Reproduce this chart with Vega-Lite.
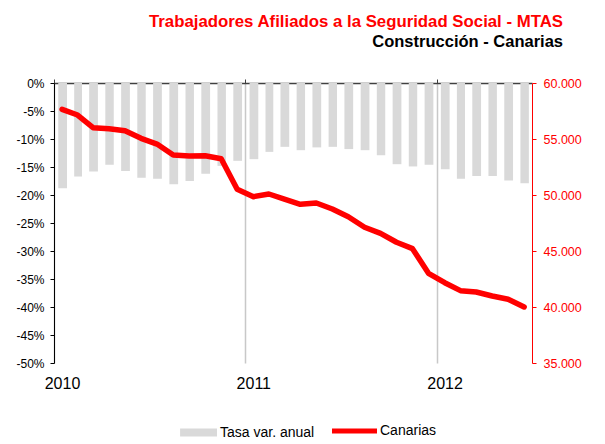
{
  "$schema": "https://vega.github.io/schema/vega-lite/v6.json",
  "width": 478,
  "height": 280,
  "autosize": "none",
  "padding": {"left": 54, "top": 83, "right": 73, "bottom": 81},
  "background": "white",
  "config": {"view": {"stroke": null}},
  "title": {
    "text": "Trabajadores Afiliados a la Seguridad Social - MTAS",
    "subtitle": "Construcción - Canarias",
    "anchor": "end",
    "frame": "group",
    "dx": 31,
    "font": "Liberation Sans",
    "fontSize": 16.8,
    "fontWeight": "bold",
    "color": "#ff0000",
    "subtitleFont": "Liberation Sans",
    "subtitleFontSize": 16.5,
    "subtitleFontWeight": "bold",
    "subtitleColor": "#000000",
    "subtitlePadding": 4,
    "offset": 26
  },
  "data": {
    "values": [
      {"fecha": "2010-01-01", "tasa": -18.8, "afiliados": 57650},
      {"fecha": "2010-02-01", "tasa": -16.7, "afiliados": 57140},
      {"fecha": "2010-03-01", "tasa": -15.8, "afiliados": 56010},
      {"fecha": "2010-04-01", "tasa": -14.6, "afiliados": 55920},
      {"fecha": "2010-05-01", "tasa": -15.7, "afiliados": 55740},
      {"fecha": "2010-06-01", "tasa": -16.9, "afiliados": 55060},
      {"fecha": "2010-07-01", "tasa": -17.1, "afiliados": 54550},
      {"fecha": "2010-08-01", "tasa": -18.1, "afiliados": 53570},
      {"fecha": "2010-09-01", "tasa": -17.5, "afiliados": 53480},
      {"fecha": "2010-10-01", "tasa": -16.2, "afiliados": 53510},
      {"fecha": "2010-11-01", "tasa": -14.8, "afiliados": 53240},
      {"fecha": "2010-12-01", "tasa": -13.9, "afiliados": 50510},
      {"fecha": "2011-01-01", "tasa": -13.6, "afiliados": 49850},
      {"fecha": "2011-02-01", "tasa": -12.3, "afiliados": 50090},
      {"fecha": "2011-03-01", "tasa": -11.4, "afiliados": 49640},
      {"fecha": "2011-04-01", "tasa": -12.0, "afiliados": 49170},
      {"fecha": "2011-05-01", "tasa": -11.5, "afiliados": 49290},
      {"fecha": "2011-06-01", "tasa": -11.4, "afiliados": 48750},
      {"fecha": "2011-07-01", "tasa": -11.8, "afiliados": 48060},
      {"fecha": "2011-08-01", "tasa": -12.0, "afiliados": 47120},
      {"fecha": "2011-09-01", "tasa": -12.9, "afiliados": 46580},
      {"fecha": "2011-10-01", "tasa": -14.5, "afiliados": 45780},
      {"fecha": "2011-11-01", "tasa": -14.9, "afiliados": 45210},
      {"fecha": "2011-12-01", "tasa": -14.6, "afiliados": 43010},
      {"fecha": "2012-01-01", "tasa": -15.4, "afiliados": 42170},
      {"fecha": "2012-02-01", "tasa": -17.1, "afiliados": 41460},
      {"fecha": "2012-03-01", "tasa": -16.6, "afiliados": 41340},
      {"fecha": "2012-04-01", "tasa": -16.6, "afiliados": 40980},
      {"fecha": "2012-05-01", "tasa": -17.4, "afiliados": 40690},
      {"fecha": "2012-06-01", "tasa": -17.9, "afiliados": 40000}
    ]
  },
  "layer": [
    {
      "mark": {"type": "bar", "width": {"band": 0.6}},
      "encoding": {
        "x": {
          "field": "fecha",
          "type": "temporal",
          "timeUnit": "utcyearmonth",
          "scale": {
            "type": "utc",
            "domain": [
              {"year": 2010, "month": 1, "date": 1, "utc": true},
              {"year": 2012, "month": 7, "date": 1, "utc": true}
            ]
          },
          "axis": {
            "orient": "bottom",
            "values": [
              {"year": 2010, "month": 1, "date": 1, "utc": true},
              {"year": 2011, "month": 1, "date": 1, "utc": true},
              {"year": 2012, "month": 1, "date": 1, "utc": true}
            ],
            "format": "%Y",
            "domain": false,
            "ticks": false,
            "grid": true,
            "gridColor": "#c8c8c8",
            "gridWidth": 1.5,
            "labelOffset": 8,
            "labelPadding": 12,
            "labelFlush": false,
            "labelFont": "Liberation Sans",
            "labelFontSize": 16,
            "labelColor": "#000000",
            "title": null
          }
        },
        "y": {
          "field": "tasa",
          "type": "quantitative",
          "scale": {"domain": [-50, 0], "nice": false},
          "axis": {
            "orient": "left",
            "values": [-50, -45, -40, -35, -30, -25, -20, -15, -10, -5, 0],
            "labelExpr": "datum.value + '%'",
            "grid": false,
            "domainColor": "#000000",
            "tickColor": "#000000",
            "tickSize": 4,
            "labelPadding": 6,
            "labelFlush": false,
            "labelOverlap": false,
            "labelFont": "Liberation Sans",
            "labelFontSize": 12,
            "labelColor": "#000000",
            "title": null
          }
        },
        "color": {
          "datum": "Tasa var. anual",
          "type": "nominal",
          "scale": {"domain": ["Tasa var. anual", "Canarias"], "range": ["#d9d9d9", "#ff0000"]},
          "legend": {
            "orient": "none",
            "legendX": 118,
            "legendY": 341,
            "direction": "horizontal",
            "title": null,
            "labelFont": "Liberation Sans",
            "labelFontSize": 14,
            "labelColor": "#000000",
            "columnPadding": 7,
            "encode": {
              "symbols": {
                "update": {
                  "shape": {"signal": "datum.value === 'Canarias' ? 'M-1,0H1' : 'M-0.64,-0.18H1V0.18H-0.64Z'"},
                  "size": {"value": 2025},
                  "xc": {"value": 22.5},
                  "fill": {"signal": "datum.value === 'Canarias' ? 'transparent' : '#d9d9d9'"},
                  "stroke": {"signal": "datum.value === 'Canarias' ? '#ff0000' : 'transparent'"},
                  "strokeWidth": {"signal": "datum.value === 'Canarias' ? 5 : 0"},
                  "opacity": {"value": 1}
                }
              },
              "labels": {
                "update": {
                  "x": {"value": 48}
                }
              }
            }
          }
        }
      }
    },
    {
      "mark": {"type": "line", "strokeWidth": 5.5, "strokeJoin": "round", "strokeCap": "round"},
      "encoding": {
        "x": {
          "field": "fecha",
          "type": "temporal",
          "timeUnit": "utcyearmonth",
          "bandPosition": 0.5,
          "axis": {
            "orient": "top",
            "values": [
              {"year": 2010, "month": 1, "date": 1, "utc": true},
              {"year": 2011, "month": 1, "date": 1, "utc": true},
              {"year": 2012, "month": 1, "date": 1, "utc": true}
            ],
            "labels": false,
            "grid": false,
            "domainColor": "#404040",
            "domainWidth": 1.5,
            "tickColor": "#404040",
            "tickSize": 4,
            "title": null
          }
        },
        "y": {
          "field": "afiliados",
          "type": "quantitative",
          "scale": {"domain": [35000, 60000], "nice": false},
          "axis": {
            "orient": "right",
            "values": [35000, 40000, 45000, 50000, 55000, 60000],
            "labelExpr": "replace(format(datum.value, ','), ',', '.')",
            "grid": false,
            "domainColor": "#ff0000",
            "tickColor": "#ff0000",
            "tickSize": 4,
            "labelPadding": 7,
            "labelFlush": false,
            "labelOverlap": false,
            "labelFont": "Liberation Sans",
            "labelFontSize": 12.5,
            "labelColor": "#ff0000",
            "title": null
          }
        },
        "color": {"datum": "Canarias", "type": "nominal"}
      }
    }
  ],
  "resolve": {"scale": {"y": "independent"}, "axis": {"x": "independent"}}
}
